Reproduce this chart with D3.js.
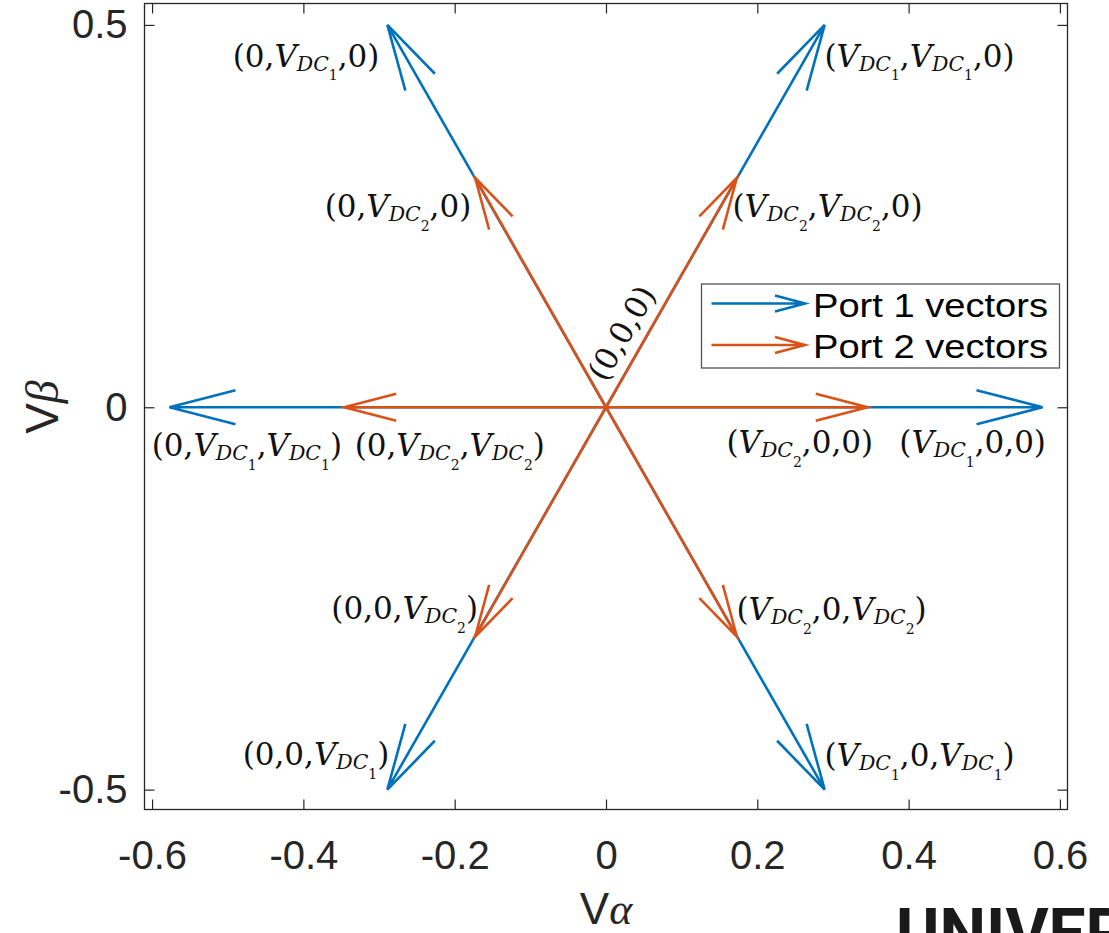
<!DOCTYPE html>
<html>
<head>
<meta charset="utf-8">
<script src="https://cdn.jsdelivr.net/npm/d3@7"></script>
<style>
  body { margin: 0; background: #fff; }
  svg { display: block; }
</style>
</head>
<body>
<svg id="chart" width="1109" height="933"></svg>
<script>
/* Space vector diagram, port 1 / port 2 vectors in the alpha-beta plane */

// vector components (alpha, beta)
const port1U = [0.577, 0.289, -0.289, -0.577, -0.289, 0.289];
const port1V = [0, 0.5, 0.5, 0, -0.5, -0.5];
const port2U = [0.346, 0.173, -0.173, -0.346, -0.173, 0.173];
const port2V = [0, 0.3, 0.3, 0, -0.3, -0.3];

const seriesNames = ['Port 1 vectors', 'Port 2 vectors'];

const xTicks = [-0.6, -0.4, -0.2, 0, 0.2, 0.4, 0.6];
const yTicks = [-0.5, 0, 0.5];

// switching state labels and where they were placed (data coords, like text(x,y,str))
const stateLabels = [
  '(0,V_{DC_1},0)', '(V_{DC_1},V_{DC_1},0)',
  '(0,V_{DC_2},0)', '(V_{DC_2},V_{DC_2},0)',
  '(0,V_{DC_1},V_{DC_1})', '(0,V_{DC_2},V_{DC_2})',
  '(V_{DC_2},0,0)', '(V_{DC_1},0,0)',
  '(0,0,V_{DC_2})', '(V_{DC_2},0,V_{DC_2})',
  '(0,0,V_{DC_1})', '(V_{DC_1},0,V_{DC_1})'
];
const stateLabelX = [-0.4934, 0.2887, -0.3719, 0.1671, -0.6004, -0.3322, 0.1592, 0.3877, -0.363, 0.1724, -0.4802, 0.2887];
const stateLabelY = [0.4453, 0.4453, 0.2489, 0.2489, -0.0637, -0.0637, -0.0598, -0.0598, -0.2769, -0.2782, -0.4678, -0.4691];
const zeroLabel = '(0,0,0)';
const zeroLabelPos = [0.0205, 0.0973];

// colours (matlab defaults)
const colors = ['#0072BD', '#D95319'];
const axisColor = '#262626';

const svg = d3.select('#chart');

// plot box
const box = { left: 144.5, right: 1067.5, top: 3.5, bottom: 809.5 };

const xScale = d3.scaleLinear().domain([-0.61, 0.61]).range([box.left, box.right]);
const yScale = d3.scaleLinear().domain([-0.526, 0.528]).range([box.bottom, box.top]);

// plain hyphen for negatives, like matlab
const fmt = d => (Math.abs(d) < 1e-9) ? '0' : (d < 0 ? '-' : '') + Math.abs(d).toFixed(1);

// axes, ticks inside, mirrored on top/right
const gX = svg.append('g')
  .attr('transform', 'translate(0,' + box.bottom + ')')
  .call(d3.axisBottom(xScale).tickValues(xTicks).tickFormat(fmt).tickSizeInner(-10).tickSizeOuter(0).tickPadding(31));
const gY = svg.append('g')
  .attr('transform', 'translate(' + box.left + ',0)')
  .call(d3.axisLeft(yScale).tickValues(yTicks).tickFormat(fmt).tickSizeInner(-10).tickSizeOuter(0).tickPadding(17));
const gXt = svg.append('g')
  .attr('transform', 'translate(0,' + box.top + ')')
  .call(d3.axisTop(xScale).tickValues(xTicks).tickFormat('').tickSizeInner(-10).tickSizeOuter(0));
const gYr = svg.append('g')
  .attr('transform', 'translate(' + box.right + ',0)')
  .call(d3.axisRight(yScale).tickValues(yTicks).tickFormat('').tickSizeInner(-10).tickSizeOuter(0));

for (let g of [gX, gY, gXt, gYr]) {
  g.select('.domain').remove();
  g.selectAll('line').attr('stroke', axisColor).attr('stroke-width', 1.2);
  g.selectAll('text')
    .attr('fill', axisColor)
    .attr('font-family', 'Liberation Sans, Arial, sans-serif')
    .attr('font-size', 40);
}

svg.append('rect')
  .attr('x', box.left).attr('y', box.top)
  .attr('width', box.right - box.left).attr('height', box.bottom - box.top)
  .attr('fill', 'none')
  .attr('stroke', axisColor)
  .attr('stroke-width', 1.3);

// arrow (quiver style open head), drawn in pixel space
const line = d3.line();
const arrowPath = function(x0, y0, x1, y1, hl, hw) {
  let dx = x1 - x0, dy = y1 - y0;
  let len = Math.sqrt(dx * dx + dy * dy);
  let ux = dx / len, uy = dy / len;
  let bx = x1 - ux * hl, by = y1 - uy * hl;
  let shaft = line([[x0, y0], [x1, y1]]);
  let head = line([[bx - uy * hw, by + ux * hw], [x1, y1], [bx + uy * hw, by - ux * hw]]);
  return shaft + head;
};

const ports = [
  { u: port1U, v: port1V, hl: 66, hw: 17 },
  { u: port2U, v: port2V, hl: 52, hw: 13.5 }
];

ports.forEach((p, i) => {
  let vecs = p.u.map((u, k) => ({ u: u, v: p.v[k] }));
  svg.append('g')
    .selectAll('path')
    .data(vecs)
    .enter().append('path')
    .attr('d', d => arrowPath(xScale(0), yScale(0), xScale(d.u), yScale(d.v), p.hl, p.hw))
    .attr('fill', 'none')
    .attr('stroke', colors[i])
    .attr('stroke-width', 2.6)
    .attr('stroke-linejoin', 'miter');
});

// math style labels: V italic, DC italic subscript, index sub-subscript
const mathFont = 'DejaVu Serif, serif';
const labelSize = 31;

const addMathText = function(sel, str, fs) {
  let parts = str.split(/(V_\{DC_\d\})/).filter(s => s.length);
  let pendingDy = 0;
  for (let part of parts) {
    let m = part.match(/V_\{DC_(\d)\}/);
    if (!m) {
      sel.append('tspan').attr('dy', pendingDy).text(part);
      pendingDy = 0;
    } else {
      sel.append('tspan').attr('dy', pendingDy).attr('font-style', 'italic').text('V');
      sel.append('tspan').attr('dy', fs * 0.14).attr('font-style', 'italic').attr('font-size', fs * 0.66).text('DC');
      sel.append('tspan').attr('dy', fs * 0.3).attr('font-size', fs * 0.45).text(m[1]);
      pendingDy = -fs * 0.44;
    }
  }
};

stateLabels.forEach((s, i) => {
  let t = svg.append('text')
    .attr('x', xScale(stateLabelX[i]))
    .attr('y', yScale(stateLabelY[i]))
    .attr('font-family', mathFont)
    .attr('font-size', labelSize)
    .attr('fill', '#111');
  addMathText(t, s, labelSize);
});

let zx = xScale(zeroLabelPos[0]), zy = yScale(zeroLabelPos[1]);
svg.append('text')
  .attr('transform', 'translate(' + zx + ',' + zy + ')rotate(-60)')
  .attr('text-anchor', 'middle')
  .attr('dy', '0.35em')
  .attr('font-family', mathFont)
  .attr('font-size', labelSize)
  .attr('fill', '#111')
  .text(zeroLabel);

// legend
const legend = svg.append('g');
legend.append('rect')
  .attr('x', 701.5).attr('y', 284)
  .attr('width', 358).attr('height', 84)
  .attr('fill', '#fff')
  .attr('stroke', '#555')
  .attr('stroke-width', 1.3);

seriesNames.forEach((name, i) => {
  let cy = 303.5 + i * 41.5;
  legend.append('path')
    .attr('d', arrowPath(711.5, cy, 805, cy, 30, 8))
    .attr('fill', 'none')
    .attr('stroke', colors[i])
    .attr('stroke-width', 2.6);
  legend.append('text')
    .attr('x', 813)
    .attr('y', cy + 13)
    .attr('font-family', 'Liberation Sans, Arial, sans-serif')
    .attr('font-size', 34)
    .attr('textLength', 235)
    .attr('lengthAdjust', 'spacingAndGlyphs')
    .attr('fill', '#000')
    .text(name);
});

// axis titles
const xl = svg.append('text')
  .attr('x', 606).attr('y', 924)
  .attr('text-anchor', 'middle')
  .attr('font-family', 'Liberation Sans, Arial, sans-serif')
  .attr('font-size', 44)
  .attr('fill', axisColor);
xl.append('tspan').text('V');
xl.append('tspan').attr('font-family', 'Liberation Serif, serif').attr('font-style', 'italic').text('α');

const yl = svg.append('text')
  .attr('transform', 'translate(58,407)rotate(-90)')
  .attr('text-anchor', 'middle')
  .attr('font-family', 'Liberation Sans, Arial, sans-serif')
  .attr('font-size', 46)
  .attr('fill', axisColor);
yl.append('tspan').text('V');
yl.append('tspan').attr('font-family', 'Liberation Serif, serif').attr('font-style', 'italic').text('β');

// logo text at bottom right of the slide, cut by the frame as in the source
svg.append('text')
  .attr('x', 896).attr('y', 956)
  .attr('font-family', 'Roboto, Liberation Sans, sans-serif')
  .attr('font-weight', 'bold')
  .attr('font-size', 66)
  .attr('fill', '#1a1a1a')
  .text('UNIVER');
</script>
</body>
</html>
